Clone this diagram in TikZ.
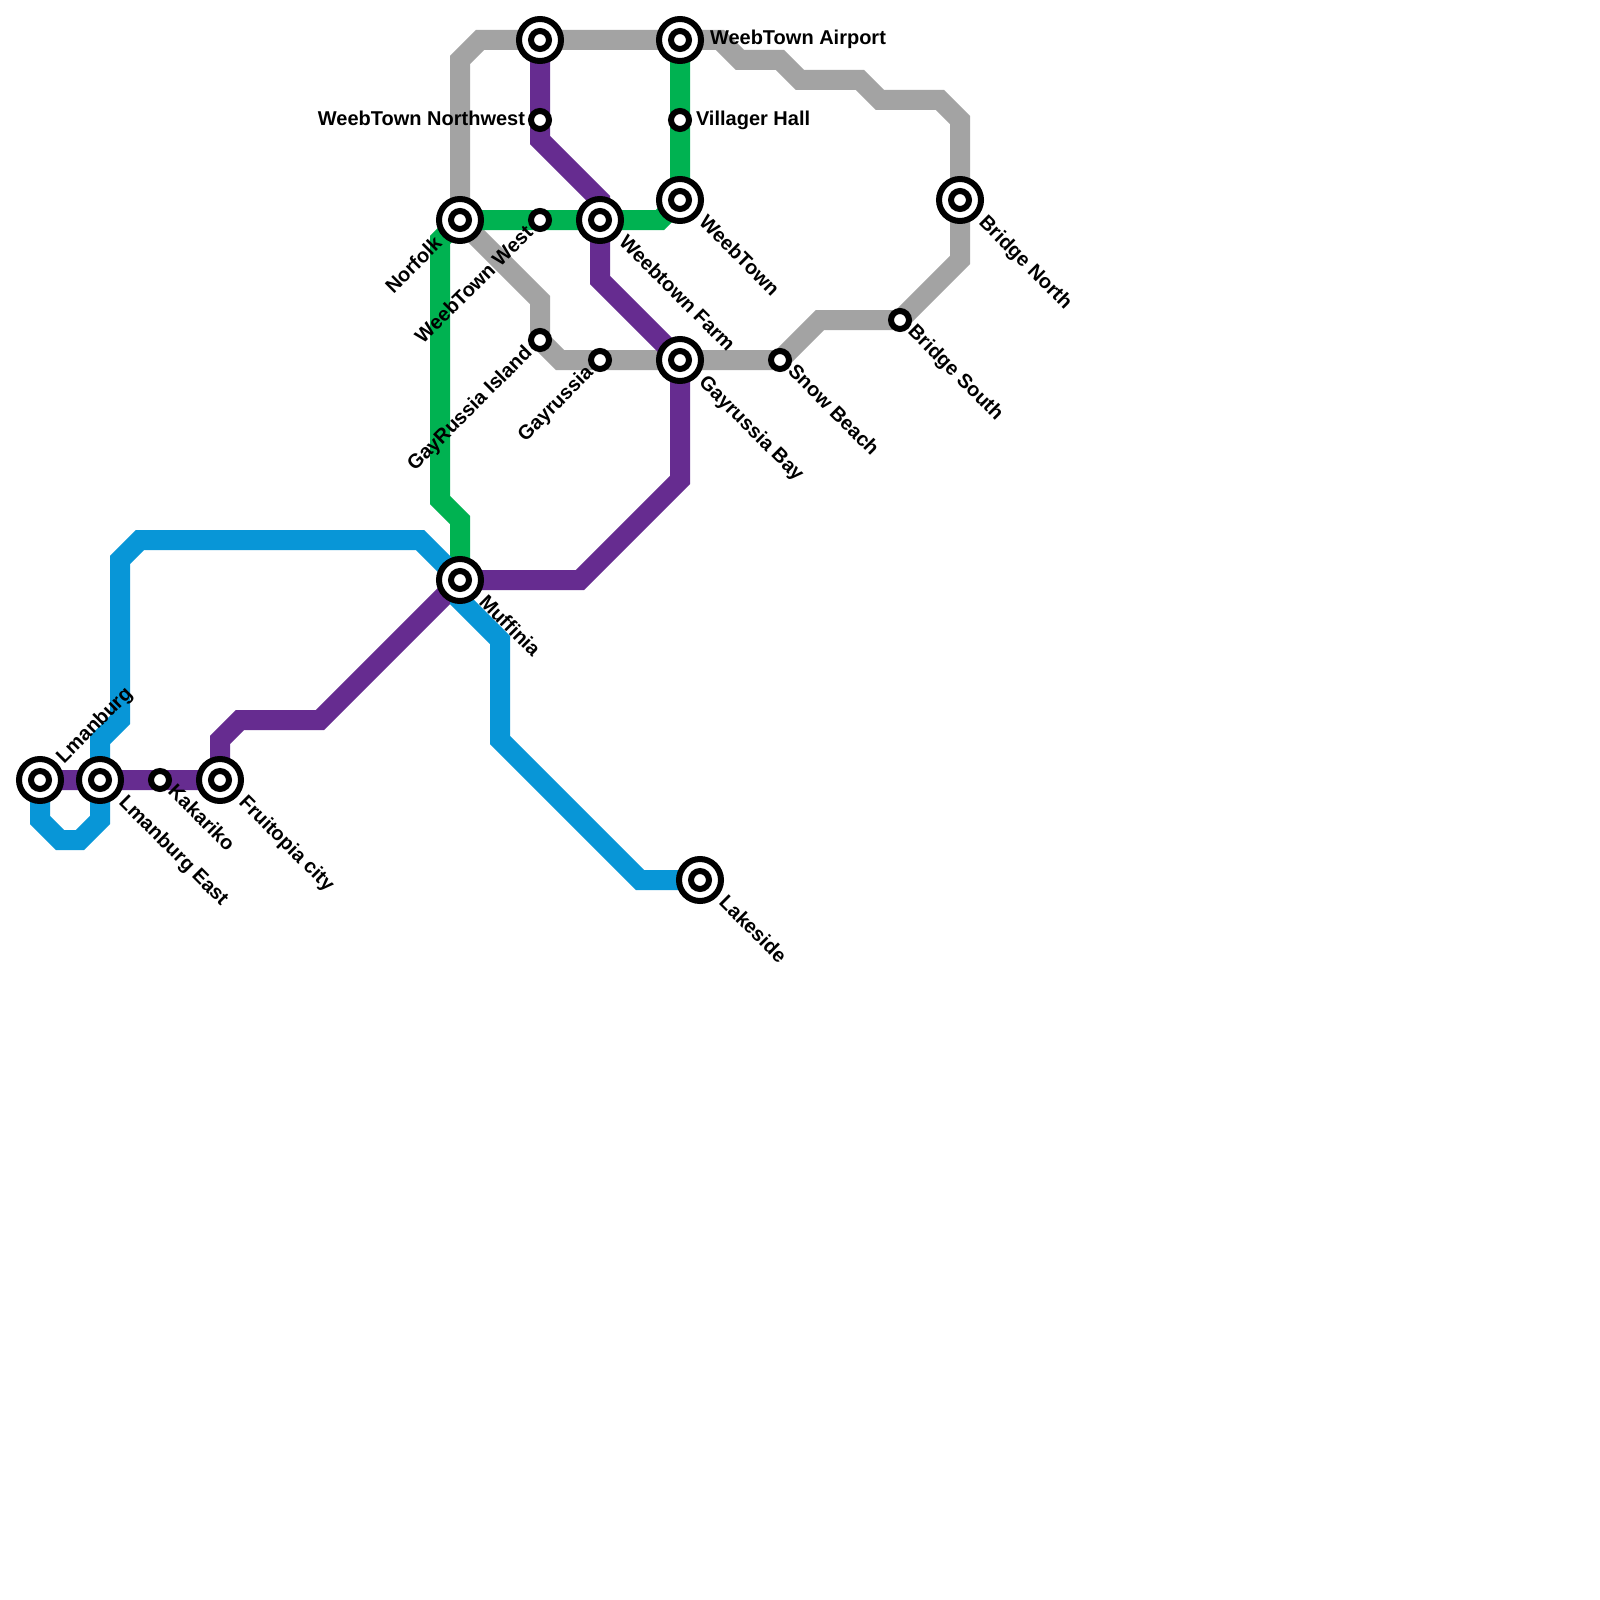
\documentclass[tikz,border=0pt]{standalone}
\usepackage{fontspec}
\setmainfont{Liberation Sans}
\usetikzlibrary{backgrounds}
\definecolor{lgrey}{HTML}{A3A3A3}
\definecolor{lgreen}{HTML}{00B251}
\definecolor{lpurple}{HTML}{662C90}
\definecolor{lblue}{HTML}{0896D7}
\tikzset{
  x=1pt,y=-1pt,
  route/.style={line width=20pt,line join=miter,line cap=butt},
  stnmark/.style={circle,draw=black,fill=white,line width=6pt,minimum size=18pt,inner sep=0pt,outer sep=0pt},
  stnring/.style={circle,draw=black,fill=white,line width=6pt,minimum size=42pt,inner sep=0pt,outer sep=0pt},
  lab/.style={inner sep=0pt,outer sep=0pt,font=\fontsize{20}{20}\selectfont\bfseries,text=black},
  labse/.style={lab,rotate=-45,anchor=base west},
  labne/.style={lab,rotate=45,anchor=base west},
  labsw/.style={lab,rotate=45,anchor=base east},
  labe/.style={lab,anchor=base west},
  labw/.style={lab,anchor=base east},
}
\newcommand{\ichange}[2]{\node[stnring] (#1r) at (#2) {};\node[stnmark] (#1) at (#2) {};}
\newcommand{\plainstn}[2]{\node[stnmark] (#1) at (#2) {};}
\begin{document}
\begin{tikzpicture}
\useasboundingbox (0,0) rectangle (1600,1600);
\ichange{lm}{40,780}
\ichange{lme}{100,780}
\plainstn{kak}{160,780}
\ichange{fru}{220,780}
\ichange{muf}{460,580}
\ichange{nor}{460,220}
\plainstn{wtw}{540,220}
\ichange{wfa}{600,220}
\ichange{wt}{680,200}
\ichange{top}{540,40}
\ichange{air}{680,40}
\plainstn{vil}{680,120}
\plainstn{wnw}{540,120}
\plainstn{gri}{540,340}
\plainstn{gay}{600,360}
\ichange{gbay}{680,360}
\plainstn{snow}{780,360}
\plainstn{brs}{900,320}
\ichange{brn}{960,200}
\ichange{lake}{700,880}
\begin{scope}[on background layer]
\fill[white] (0,0) rectangle (1600,1600);
\draw[route,lgrey] (nor.center) -- (460,60) -- (480,40) -- (top.center) -- (air.center) -- (720,40) -- (740,60) -- (780,60) -- (800,80) -- (860,80) -- (880,100) -- (940,100) -- (960,120) -- (brn.center) -- (960,260) -- (brs.center) -- (820,320) -- (snow.center) -- (gbay.center) -- (gay.center) -- (560,360) -- (gri.center) -- (540,300) -- (nor.center);
\draw[route,lgreen] (muf.center) -- (460,520) -- (440,500) -- (440,240) -- (nor.center) -- (wtw.center) -- (wfa.center) -- (660,220) -- (wt.center) -- (vil.center) -- (air.center);
\draw[route,lpurple] (lm.center) -- (lme.center) -- (kak.center) -- (fru.center) -- (220,740) -- (240,720) -- (320,720) -- (muf.center) -- (580,580) -- (680,480) -- (gbay.center) -- (600,280) -- (wfa.center) -- (600,200) -- (540,140) -- (wnw.center) -- (top.center);
\draw[route,lblue] (lake.center) -- (640,880) -- (500,740) -- (500,640) -- (460,600) -- (muf.center) -- (420,540) -- (140,540) -- (120,560) -- (120,720) -- (100,740) -- (lme.center) -- (100,820) -- (80,840) -- (60,840) -- (40,820) -- (lm.center);
\end{scope}
\node[labne] (tlm) at ([shift={(24,-16)}]lm) {Lmanburg};
\node[labse] (tlme) at ([shift={(18,23.5)}]lme) {Lmanburg East};
\node[labse] (tkak) at ([shift={(7,12.5)}]kak) {Kakariko};
\node[labse] (tfru) at ([shift={(18,23.5)}]fru) {Fruitopia city};
\node[labse] (tmuf) at ([shift={(18,23.5)}]muf) {Muffinia};
\node[labsw] (tnor) at ([shift={(-17,25)}]nor) {Norfolk};
\node[labsw] (twtw) at ([shift={(-6,14)}]wtw) {WeebTown West};
\node[labse] (twfa) at ([shift={(18,23.5)}]wfa) {Weebtown Farm};
\node[labse] (twt) at ([shift={(18,23.5)}]wt) {WeebTown};
\node[labe] (tair) at ([shift={(30,5)}]air) {WeebTown Airport};
\node[labe] (tvil) at ([shift={(16,5)}]vil) {Villager Hall};
\node[labw] (twnw) at ([shift={(-15,5)}]wnw) {WeebTown Northwest};
\node[labsw] (tgri) at ([shift={(-7,14)}]gri) {GayRussia Island};
\node[labsw] (tgay) at ([shift={(-6,14)}]gay) {Gayrussia};
\node[labse] (tgbay) at ([shift={(18,23.5)}]gbay) {Gayrussia Bay};
\node[labse] (tsnow) at ([shift={(7,12.5)}]snow) {Snow Beach};
\node[labse] (tbrs) at ([shift={(7,12.5)}]brs) {Bridge South};
\node[labse] (tbrn) at ([shift={(18,23.5)}]brn) {Bridge North};
\node[labse] (tlake) at ([shift={(18,23.5)}]lake) {Lakeside};
\end{tikzpicture}
\end{document}
